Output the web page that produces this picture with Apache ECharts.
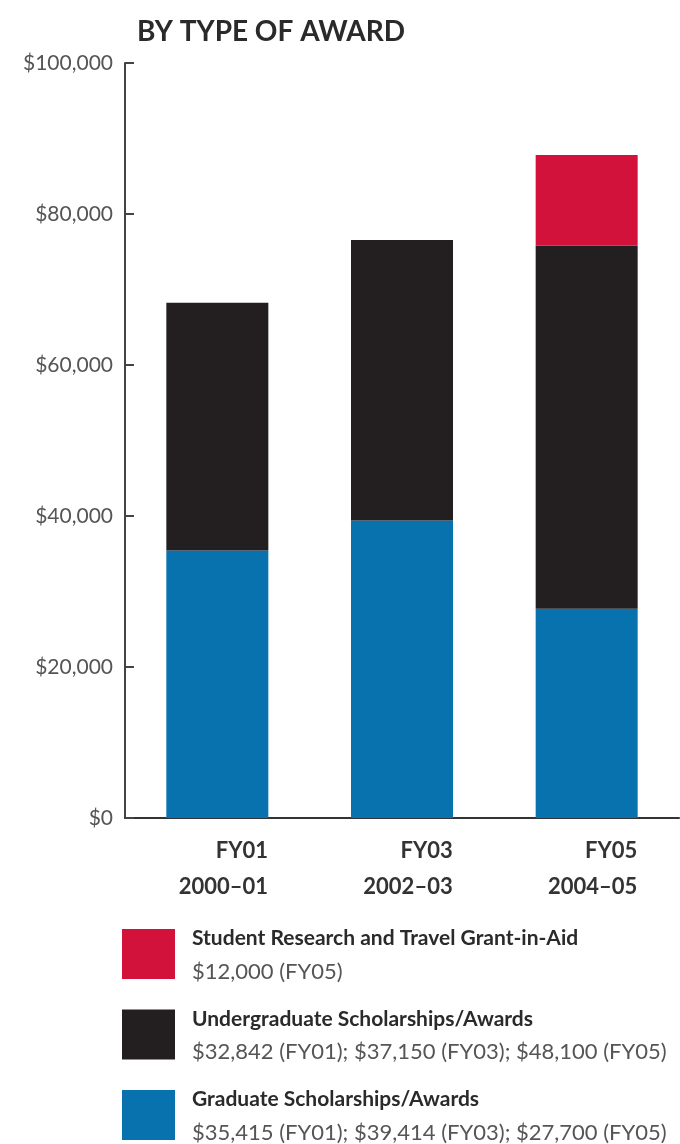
<!DOCTYPE html>
<html>
<head>
<meta charset="utf-8">
<script src="https://cdn.jsdelivr.net/npm/echarts@6/dist/echarts.min.js"></script>
<style>html,body{margin:0;padding:0;background:#fff;}#c{width:680px;height:1144px;}</style>
</head>
<body>
<div id="c"></div>
<script>
const fyCodes = ['FY01', 'FY03', 'FY05'];
const fyYears = ['2000–01', '2002–03', '2004–05'];
const graduate = [35415, 39414, 27700];
const undergraduate = [32842, 37150, 48100];
const research = [null, null, 12000];
const yTicks = [0, 20000, 40000, 60000, 80000, 100000];

const names = {
  research: 'Student Research and Travel Grant-in-Aid',
  under: 'Undergraduate Scholarships/Awards',
  grad: 'Graduate Scholarships/Awards'
};
const money = v => '$' + v.toLocaleString('en-US');
function valueLine(arr) {
  return arr.map((v, i) => v == null ? null : money(v) + ' (' + fyCodes[i] + ')')
            .filter(s => s).join('; ');
}
const legendValues = {};
legendValues[names.research] = valueLine(research);
legendValues[names.under] = valueLine(undergraduate);
legendValues[names.grad] = valueLine(graduate);

const chart = echarts.init(document.getElementById('c'));
chart.setOption({
  animation: false,
  title: {
    text: 'BY TYPE OF AWARD',
    left: 132, top: 13,
    textStyle: { fontFamily: 'Lato', fontWeight: 'bold', fontSize: 28, color: '#2a2a2a' }
  },
  grid: { left: 125, right: 1, top: 63, bottom: 326 },
  xAxis: {
    type: 'category',
    data: fyCodes,
    axisLine: { lineStyle: { color: '#333', width: 2 } },
    axisTick: { inside: true, length: 18, lineStyle: { color: '#333', width: 2 } },
    axisLabel: {
      margin: 15,
      formatter: (v, i) => '{a|' + v + '}\n{a|' + fyYears[i] + '}',
      rich: {
        a: { fontFamily: 'Lato', fontWeight: 'bold', fontSize: 22, color: '#333', lineHeight: 36, align: 'right', padding: [0, 0, 0, 12] }
      }
    }
  },
  yAxis: {
    type: 'value',
    min: yTicks[0], max: yTicks[yTicks.length - 1], interval: yTicks[1] - yTicks[0],
    axisLine: { show: true, lineStyle: { color: '#444', width: 2 } },
    axisTick: { show: true, inside: true, length: 9, lineStyle: { color: '#444', width: 2 } },
    splitLine: { show: false },
    axisLabel: {
      margin: 12,
      formatter: v => money(v),
      fontFamily: 'Lato', fontSize: 21, color: '#555'
    }
  },
  legend: {
    orient: 'vertical',
    left: 122, top: 924, height: 260, padding: 0,
    itemWidth: 53, itemHeight: 50, itemGap: 22,
    icon: 'rect',
    selectedMode: false,
    data: [names.research, names.under, names.grad],
    formatter: n => '{b|' + n + '}\n{v|' + legendValues[n] + '}',
    textStyle: {
      rich: {
        b: { fontFamily: 'Lato', fontWeight: 'bold', fontSize: 21, color: '#2a2a2a', lineHeight: 35, padding: [4, 0, 0, 12] },
        v: { fontFamily: 'Lato', fontSize: 22, color: '#555', lineHeight: 35, padding: [0, 0, 0, 12] }
      }
    }
  },
  series: [
    { name: names.grad, type: 'bar', stack: 't', data: graduate, barWidth: 102, itemStyle: { color: '#0872AF' } },
    { name: names.under, type: 'bar', stack: 't', data: undergraduate, barWidth: 102, itemStyle: { color: '#231F20' } },
    { name: names.research, type: 'bar', stack: 't', data: research, barWidth: 102, itemStyle: { color: '#D3123C' } }
  ]
});
</script>
</body>
</html>
